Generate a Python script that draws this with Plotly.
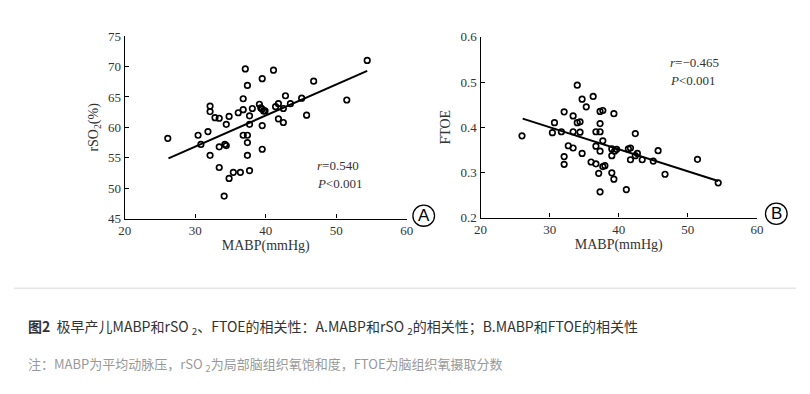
import plotly.graph_objects as go

# ---- data ----
left_x = [26.1, 30.4, 30.8, 31.8, 32.1, 32.1, 32.1, 32.8,
          33.4, 33.4, 33.4, 34.2, 34.4, 34.4, 34.8, 34.8, 34.1, 35.4,
          36.1, 36.4, 36.8, 36.8, 36.8, 37.1, 37.4, 37.4, 37.4, 37.4,
          37.7, 37.7, 37.7, 38.1, 39.1, 39.3, 39.5, 39.5, 39.5, 39.5,
          39.7, 39.9, 41.1, 41.4, 41.8, 41.8, 42.5, 42.5, 42.8, 43.5,
          45.1, 45.8, 46.8, 51.5, 54.4]
left_y = [58.2, 58.7, 57.2, 59.3, 63.5, 62.6, 55.4, 61.6,
          61.5, 56.8, 53.4, 57.2, 57.0, 60.5, 61.8, 51.6, 48.7, 52.6,
          62.4, 52.6, 64.7, 62.9, 58.7, 69.6, 66.9, 58.7, 57.5, 55.4,
          61.9, 60.5, 52.9, 63.1, 63.8, 63.2, 68.0, 63.0, 60.3, 56.4,
          62.7, 62.7, 69.4, 63.4, 63.9, 61.4, 63.1, 60.8, 65.2, 63.9,
          64.8, 62.0, 67.6, 64.5, 71.0]
left_fit_x = [26.2, 54.4]
left_fit_y = [54.9, 69.3]

right_x = [26.0, 30.4, 30.7, 31.7, 32.1, 32.1, 32.1, 32.7,
           33.4, 33.4, 33.4, 34.0, 34.0, 34.4, 34.4, 34.7, 34.7, 35.3,
           36.0, 36.3, 36.7, 36.7, 36.7, 37.1, 37.3, 37.7, 37.3, 37.3,
           37.3, 37.3, 37.7, 37.7, 38.0, 39.0, 39.0, 39.0, 39.3, 39.3,
           39.4, 39.7, 41.1, 41.4, 41.7, 41.7, 42.4, 42.4, 42.7, 43.4,
           45.0, 45.7, 46.7, 51.4, 54.4]
right_y = [0.381, 0.388, 0.410, 0.390, 0.434, 0.335, 0.318, 0.359,
           0.425, 0.390, 0.354, 0.493, 0.410, 0.412, 0.389, 0.462, 0.342, 0.445,
           0.323, 0.468, 0.390, 0.358, 0.319, 0.298, 0.435, 0.437, 0.408, 0.390,
           0.347, 0.257, 0.370, 0.313, 0.315, 0.299, 0.337, 0.352, 0.430, 0.285,
           0.347, 0.351, 0.262, 0.352, 0.354, 0.328, 0.386, 0.337, 0.342, 0.328,
           0.325, 0.348, 0.296, 0.329, 0.277]
right_fit_x = [26.1, 54.4]
right_fit_y = [0.419, 0.281]

x_ticks = [20, 30, 40, 50, 60]
left_y_ticks = [45, 50, 55, 60, 65, 70, 75]
right_y_ticks = [0.2, 0.3, 0.4, 0.5, 0.6]
right_y_labels = ["0.2", "0.3", "0.4", "0.5", "0.6"]

caption = ("<b>图2</b>  极早产儿MABP和rSO <sub>2</sub>、FTOE的相关性：A.MABP和rSO <sub>2</sub>"
           "的相关性；B.MABP和FTOE的相关性")
note = "注：MABP为平均动脉压，rSO <sub>2</sub>为局部脑组织氧饱和度，FTOE为脑组织氧摄取分数"

# the page keeps an 8px body margin; the figure fills the rest of the 810x394 window
OFF = 8
W, H = 810 - 2 * OFF, 394 - 2 * OFF


def px(x):
    return (x - OFF) / W


def py(y):
    return 1 - (y - OFF) / H


serif = "Liberation Serif, Times New Roman, serif"
cjk = "Noto Sans CJK SC, sans-serif"

marker = dict(symbol="circle-open", size=5.5, color="black", line=dict(width=1.7, color="black"))

fig = go.Figure()
fig.add_trace(go.Scatter(x=left_x, y=left_y, mode="markers", marker=marker,
                         xaxis="x", yaxis="y", showlegend=False))
fig.add_trace(go.Scatter(x=left_fit_x, y=left_fit_y, mode="lines",
                         line=dict(color="black", width=2), xaxis="x", yaxis="y", showlegend=False))
fig.add_trace(go.Scatter(x=right_x, y=right_y, mode="markers", marker=marker,
                         xaxis="x2", yaxis="y2", showlegend=False))
fig.add_trace(go.Scatter(x=right_fit_x, y=right_fit_y, mode="lines",
                         line=dict(color="black", width=2), xaxis="x2", yaxis="y2", showlegend=False))

axis_common = dict(showline=True, linecolor="black", linewidth=1.3, ticks="inside",
                   ticklen=4, tickwidth=1.2, tickcolor="black", showgrid=False, zeroline=False,
                   tickfont=dict(family=serif, size=13, color="#333"),
                   mirror=False)
title_font = dict(family=serif, size=14, color="#333")

fig.update_layout(
    width=W, height=H, autosize=False,
    margin=dict(l=0, r=0, t=0, b=0),
    paper_bgcolor="white", plot_bgcolor="white",
    xaxis=dict(domain=[px(120.5), px(406.7)], range=[20, 60], tickvals=x_ticks,
               anchor="y", title=dict(text="MABP(mmHg)", font=title_font, standoff=2),
               **axis_common),
    yaxis=dict(domain=[py(220), py(30)], range=[45, 75], tickvals=left_y_ticks,
               anchor="x", title=dict(text="rSO<sub>2</sub>(%)", font=title_font, standoff=6),
               **axis_common),
    xaxis2=dict(domain=[px(481.7), px(762.3)], range=[20, 60], tickvals=x_ticks,
                anchor="y2", title=dict(text="MABP(mmHg)", font=title_font, standoff=2),
                **axis_common),
    yaxis2=dict(domain=[py(219), py(30.7)], range=[0.2, 0.6], tickvals=right_y_ticks,
                ticktext=right_y_labels, anchor="x2",
                title=dict(text="FTOE", font=title_font, standoff=6),
                **axis_common),
)

ann = []
stat_font = dict(family=serif, size=13, color="#333")
ann.append(dict(x=px(314), y=py(165), xref="paper", yref="paper", xanchor="left", yanchor="middle",
                text="<i>r</i>=0.540", showarrow=False, font=stat_font))
ann.append(dict(x=px(314), y=py(183), xref="paper", yref="paper", xanchor="left", yanchor="middle",
                text="<i>P</i>&lt;0.001", showarrow=False, font=stat_font))
ann.append(dict(x=px(672), y=py(57), xref="paper", yref="paper", xanchor="left", yanchor="middle",
                text="<i>r</i>=−0.465", showarrow=False, font=stat_font))
ann.append(dict(x=px(672), y=py(76), xref="paper", yref="paper", xanchor="left", yanchor="middle",
                text="<i>P</i>&lt;0.001", showarrow=False, font=stat_font))

# circled panel letters
for cx, cy, letter in [(424, 217, "A"), (782, 215, "B")]:
    ann.append(dict(x=px(cx), y=py(cy), xref="paper", yref="paper", xanchor="center", yanchor="middle",
                    text=letter, showarrow=False,
                    font=dict(family="Liberation Sans, Arial, sans-serif", size=17, color="black")))

ann.append(dict(x=px(20), y=py(333), xref="paper", yref="paper", xanchor="left", yanchor="middle",
                text=caption, showarrow=False, font=dict(family=cjk, size=14, color="#333")))
ann.append(dict(x=px(20), y=py(372), xref="paper", yref="paper", xanchor="left", yanchor="middle",
                text=note, showarrow=False, font=dict(family=cjk, size=13, color="#999")))
fig.update_layout(annotations=ann)

shapes = []
for cx, cy in [(424, 217), (782, 215)]:
    r = 11
    shapes.append(dict(type="circle", xref="paper", yref="paper",
                       x0=px(cx - r), x1=px(cx + r), y0=py(cy + r), y1=py(cy - r),
                       line=dict(color="black", width=1.3)))
shapes.append(dict(type="line", xref="paper", yref="paper", x0=0, x1=1, y0=py(292.5), y1=py(292.5),
                   line=dict(color="#e6e6e6", width=1.5)))
fig.update_layout(shapes=shapes)

fig.write_html("out.html", config={"displayModeBar": False})
